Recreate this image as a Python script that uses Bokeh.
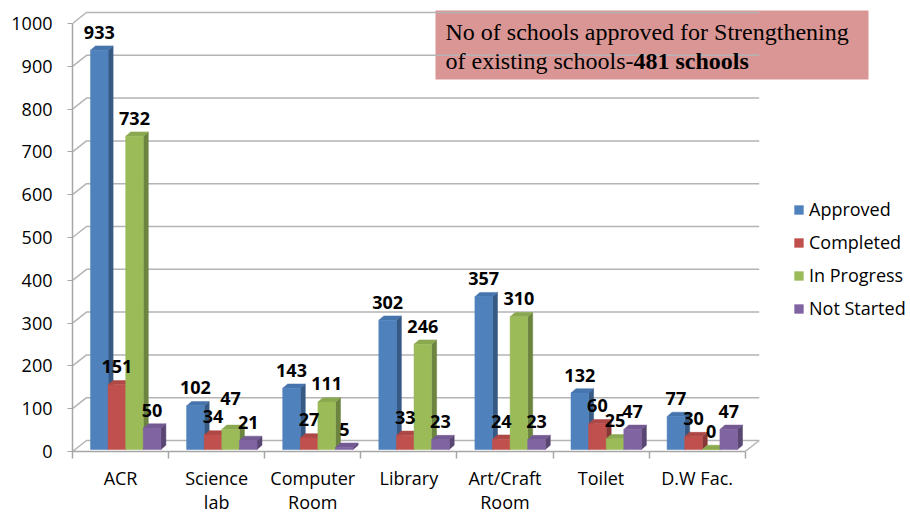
from bokeh.plotting import figure
from bokeh.models import FixedTicker, Label, BoxAnnotation, Legend, LegendItem, ColumnDataSource
from bokeh.embed import file_html
from bokeh.resources import INLINE
from bokeh.core.properties import value

# ---------------- data ----------------
categories = ["ACR", "Science\nlab", "Computer\nRoom", "Library", "Art/Craft\nRoom", "Toilet", "D.W Fac."]
series_names = ["Approved", "Completed", "In Progress", "Not Started"]
approved = [933, 102, 143, 302, 357, 132, 77]
completed = [151, 34, 27, 33, 24, 60, 30]
in_progress = [732, 47, 111, 246, 310, 25, 0]
not_started = [50, 21, 5, 23, 23, 47, 47]
y_ticks = [0, 100, 200, 300, 400, 500, 600, 700, 800, 900, 1000]
note_line1 = "No of schools approved for Strengthening"
note_line2 = "of existing schools-"
note_bold = "481 schools"

series = [approved, completed, in_progress, not_started]

# ---------------- style / layout ----------------
front_colors = ["#4F81BD", "#C0504D", "#9BBB59", "#8064A2"]
top_colors = ["#4674AC", "#AD4846", "#8AA84F", "#735A92"]
side_colors = ["#375A85", "#873836", "#6C843F", "#5A4673"]
FONT = "Open Sans"
FS = "18px"
W, H = 910, 516
FRAME_LEFT = 72
FRAME_BOTTOM = 65
PX_X = 96.1    # pixels per category
PX_Y = 0.428   # pixels per value unit
frame_w = W - FRAME_LEFT
frame_h = H - FRAME_BOTTOM
LABEL_GAP = -18
# extra pixel nudge for the one label the original lifted (series index, category index)
LABEL_NUDGE = {(2, 1): -13}


def dxu(px):
    return px / PX_X


def dyu(px):
    return px / PX_Y


def ypos(py):
    """data y for a pixel row of the page"""
    return dyu(frame_h - py)


BAR_W = dxu(17.6)
GROUP_START = dxu(18)
BAR_BASE = dyu(2)
BAR_DX, BAR_DY = dxu(5), dyu(4.3)
WALL_DX, WALL_DY = dxu(14), dyu(11)
n = len(categories)

p = figure(width=W, height=H, output_backend="svg", toolbar_location=None,
           x_range=(0, frame_w / PX_X), y_range=(0, frame_h / PX_Y),
           min_border_left=FRAME_LEFT, min_border_right=0, min_border_top=0,
           min_border_bottom=FRAME_BOTTOM)
p.outline_line_color = None
p.grid.visible = False
p.background_fill_color = "white"

# note box (behind gridlines)
box = BoxAnnotation(left=dxu(435 - 72), right=dxu(868 - 72), top=ypos(10), bottom=ypos(79),
                    fill_color="#D99694", fill_alpha=1.0, line_color=None, level="underlay")
p.add_layout(box)

GRID = "#B4B4B4"
# back wall + side wall gridlines
gx = [[0, WALL_DX, n + WALL_DX] for _ in y_ticks]
gy = [[v, v + WALL_DY, v + WALL_DY] for v in y_ticks]
p.multi_line(gx, gy, line_color=GRID, line_width=1.5)
# floor right edge
p.multi_line([[n, n + WALL_DX]], [[0, WALL_DY]], line_color=GRID, line_width=1.5)

legend_items = []
label_sources = []
for j, vals in enumerate(series):
    lefts = [i + GROUP_START + j * BAR_W for i in range(n)]
    rights = [l + BAR_W for l in lefts]
    bottoms = [BAR_BASE] * n
    tops = [v + BAR_BASE for v in vals]
    side_xs = [[r, r, r + BAR_DX, r + BAR_DX] for r in rights]
    side_ys = [[BAR_BASE, t, t + BAR_DY, BAR_BASE + BAR_DY] for t in tops]
    top_xs = [[l, r, r + BAR_DX, l + BAR_DX] for l, r in zip(lefts, rights)]
    top_ys = [[t, t, t + BAR_DY, t + BAR_DY] for t in tops]
    p.patches(side_xs, side_ys, fill_color=side_colors[j], line_color=side_colors[j], line_width=0.5)
    p.patches(top_xs, top_ys, fill_color=top_colors[j], line_color=top_colors[j], line_width=0.5)
    r = p.quad(left=lefts, right=rights, bottom=bottoms, top=tops,
               fill_color=front_colors[j], line_color=front_colors[j], line_width=0.5)
    legend_items.append(LegendItem(label=series_names[j], renderers=[r]))
    label_sources.append(ColumnDataSource(dict(
        x=[(l + r2) / 2 for l, r2 in zip(lefts, rights)], y=tops, t=[str(v) for v in vals],
        dy=[LABEL_GAP + LABEL_NUDGE.get((j, i), 0) for i in range(n)])))

for src in label_sources:
    p.text(x="x", y="y", text="t", source=src, y_offset="dy", text_align="center",
           text_baseline="middle", text_font=value(FONT), text_font_style="bold",
           text_font_size=FS, text_color="black")

# note text
p.add_layout(Label(x=dxu(445 - 72), y=ypos(31), text=note_line1, text_font="Liberation Serif",
                   text_font_size="24px", text_color="black", text_baseline="alphabetic"))
p.add_layout(Label(x=dxu(445 - 72), y=ypos(60), text=note_line2, text_font="Liberation Serif",
                   text_font_size="24px", text_color="black", text_baseline="alphabetic"))
p.add_layout(Label(x=dxu(633 - 72), y=ypos(60), text=note_bold, text_font="Liberation Serif",
                   text_font_size="24px", text_font_style="bold", text_color="black",
                   text_baseline="alphabetic"))

# axes
AX = "#A6A6A6"
yax = p.yaxis[0]
yax.ticker = FixedTicker(ticks=y_ticks)
yax.bounds = (0, 1000)
yax.axis_line_color = AX
yax.axis_line_width = 1.5
yax.major_tick_line_color = AX
yax.major_tick_in = 0
yax.major_tick_out = 5
yax.minor_tick_line_color = None
yax.major_label_standoff = 15
yax.major_label_text_font = FONT
yax.major_label_text_font_size = FS
yax.major_label_text_color = "black"

xax = p.xaxis[0]
xax.ticker = FixedTicker(ticks=[i + 0.5 for i in range(n)], minor_ticks=list(range(n + 1)))
xax.major_label_overrides = {i + 0.5: c for i, c in enumerate(categories)}
xax.bounds = (0, n)
xax.axis_line_color = AX
xax.axis_line_width = 1.5
xax.major_tick_line_color = None
xax.major_tick_out = 0
xax.major_tick_in = 0
xax.minor_tick_line_color = AX
xax.minor_tick_line_width = 1.5
xax.minor_tick_in = 0
xax.minor_tick_out = 7
xax.major_label_standoff = 7
xax.major_label_text_font = FONT
xax.major_label_text_font_size = FS
xax.major_label_text_color = "black"
xax.major_label_text_line_height = 1.0

legend = Legend(items=legend_items, location=(721, 131))
legend.background_fill_alpha = 0
legend.border_line_color = None
legend.padding = 0
legend.margin = 0
legend.spacing = 9
legend.label_height = 24
legend.glyph_height = 11
legend.glyph_width = 11
legend.label_standoff = 5
legend.label_text_font = FONT
legend.label_text_font_size = FS
legend.label_text_color = "black"
p.add_layout(legend)

open("out.html", "w").write(file_html(p, INLINE))
